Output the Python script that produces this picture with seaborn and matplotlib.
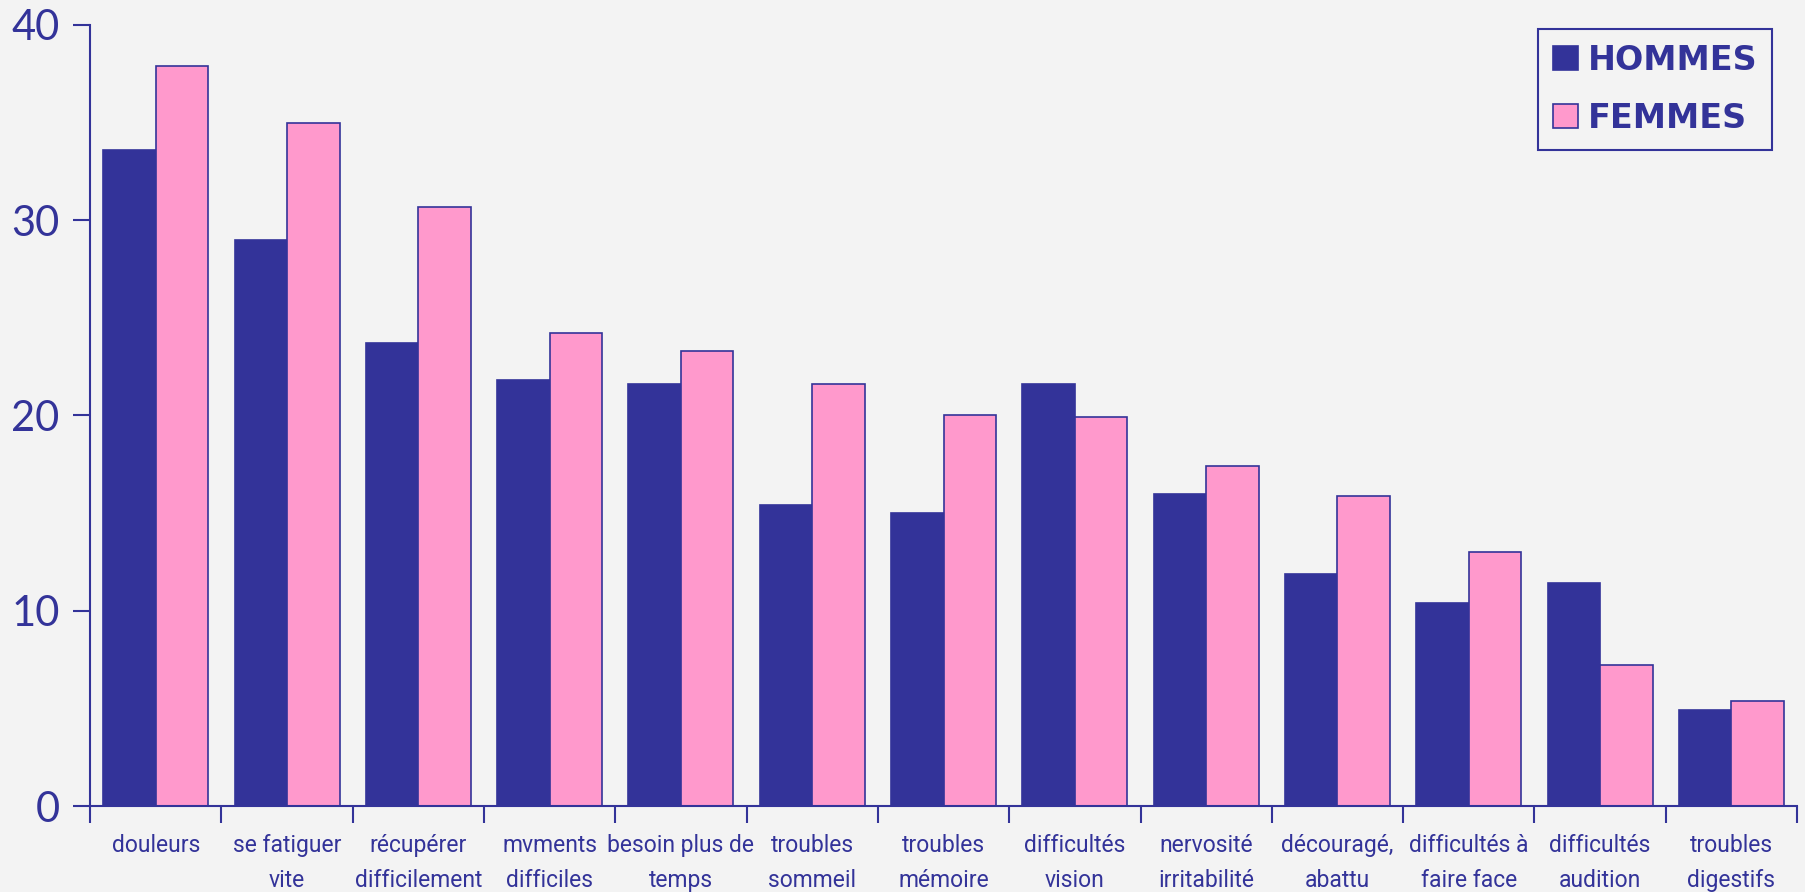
import matplotlib
matplotlib.use("Agg")
import matplotlib.pyplot as plt
import pandas as pd
import seaborn as sns

# DATA
categories = ["douleurs", "se fatiguer\nvite", "récupérer\ndifficilement", "mvments\ndifficiles",
              "besoin plus de\ntemps", "troubles\nsommeil", "troubles\nmémoire", "difficultés\nvision",
              "nervosité\nirritabilité", "découragé,\nabattu", "difficultés à\nfaire face",
              "difficultés\naudition", "troubles\ndigestifs"]
hommes = [33.6, 29.0, 23.7, 21.8, 21.6, 15.4, 15.0, 21.6, 16.0, 11.9, 10.4, 11.4, 4.9]
femmes = [37.9, 35.0, 30.7, 24.2, 23.3, 21.6, 20.0, 19.9, 17.4, 15.9, 13.0, 7.2, 5.4]
series = ["HOMMES", "FEMMES"]

df = pd.DataFrame({"cat": categories, "HOMMES": hommes, "FEMMES": femmes})
df = df.melt(id_vars="cat", var_name="sexe", value_name="val")

blue = "#333399"
pink = "#FF99CC"
bg = "#F3F3F3"

sns.set_theme(style="white")
plt.rcParams['font.family'] = ['Roboto', 'DejaVu Sans']

fig = plt.figure(figsize=(18.05, 8.92), dpi=100, facecolor=bg)
ax = fig.add_axes([0.0499, 0.0964, 0.9457, 0.8756])
ax.set_facecolor(bg)

sns.barplot(data=df, x="cat", y="val", hue="sexe", hue_order=series,
            palette={"HOMMES": blue, "FEMMES": pink}, width=0.8, saturation=1,
            edgecolor=blue, linewidth=1.2, ax=ax)

ax.set_ylim(0, 40)
ax.set_xlim(-0.5, len(categories) - 0.5)
ax.set_xlabel("")
ax.set_ylabel("")

# ticks at group boundaries, labels centred
ax.set_xticks([i - 0.5 for i in range(len(categories) + 1)])
ax.set_xticklabels([])
ax.set_xticks(range(len(categories)), minor=True)
ax.set_xticklabels(categories, minor=True, fontsize=16.5, color=blue, linespacing=1.7)
ax.tick_params(axis="x", which="major", direction="out", length=12, width=1.5, color=blue, bottom=True)
ax.tick_params(axis="x", which="minor", length=0, pad=20)

ax.set_yticks([0, 10, 20, 30, 40])
ax.tick_params(axis="y", direction="out", length=12, width=1.5, color=blue, left=True, pad=10)
for t in ax.get_yticklabels():
    t.set_fontfamily(['Lato', 'DejaVu Sans'])
    t.set_fontsize(30)
    t.set_color(blue)

sns.despine(ax=ax)
for s in ["left", "bottom"]:
    ax.spines[s].set_color(blue)
    ax.spines[s].set_linewidth(1.5)

leg = ax.legend(loc="upper right", bbox_to_anchor=(0.9855, 0.995), frameon=True, fancybox=False,
                prop={"family": ['DejaVu Sans'], "weight": "bold", "size": 24},
                handlelength=0.75, handleheight=0.75, handletextpad=0.3, labelspacing=0.75,
                borderpad=0.45, borderaxespad=0)
leg.get_frame().set_edgecolor(blue)
leg.get_frame().set_linewidth(1.5)
leg.get_frame().set_facecolor(bg)
leg.get_frame().set_alpha(1)
for t in leg.get_texts():
    t.set_color(blue)

fig.savefig("out.png", dpi=100, facecolor=bg)
